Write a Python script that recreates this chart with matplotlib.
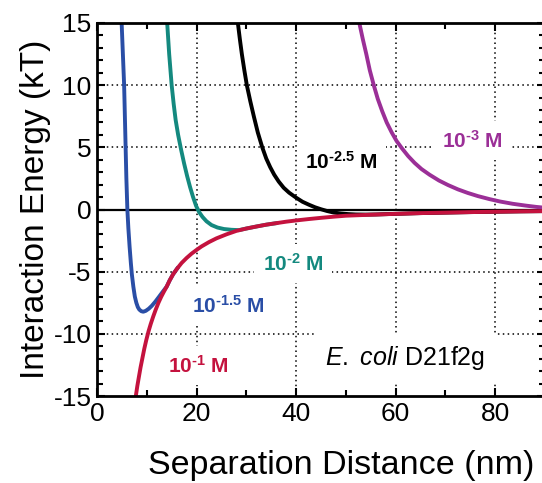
import matplotlib
matplotlib.use("Agg")
import matplotlib.pyplot as plt
from matplotlib.ticker import MultipleLocator

plt.rcParams['font.family'] = ['Liberation Sans', 'DejaVu Sans']
plt.rcParams['mathtext.fontset'] = 'custom'
plt.rcParams['mathtext.rm'] = 'Liberation Sans'
plt.rcParams['mathtext.bf'] = 'Liberation Sans:bold'
plt.rcParams['mathtext.it'] = 'Liberation Sans:italic'
plt.rcParams['axes.unicode_minus'] = False

# ---- data (separation distance nm, energy kT) ----
red_x = [7.8, 8.1, 8.4, 8.75, 9.1, 9.5, 9.9, 10.35, 10.8, 11.3, 11.8, 12.35, 12.9, 13.45, 14.0,
         14.6, 15.3, 16.1, 17.0, 18.0, 19.0, 20.0, 21.0, 22.5, 24.0, 26.0, 28.0, 30.0, 32.0, 34.0,
         36.0, 38.0, 40.0, 42.5, 45.0, 47.5, 50.0, 55.0, 60.0, 65.0, 70.0, 75.0, 80.0, 85.0, 90.0]
red_y = [-15.0, -14.2, -13.5, -12.7, -12.0, -11.2, -10.5, -9.8, -9.2, -8.6, -8.05, -7.5, -7.02, -6.6, -6.2,
         -5.7, -5.2, -4.75, -4.3, -3.9, -3.55, -3.25, -2.97, -2.62, -2.32, -2.0, -1.72, -1.53, -1.37, -1.22,
         -1.1, -0.98, -0.88, -0.77, -0.67, -0.58, -0.5, -0.42, -0.35, -0.29, -0.25, -0.21, -0.18, -0.15, -0.13]

blue_x = [4.95, 5.2, 5.45, 5.6, 5.75, 5.9, 6.1, 6.3, 6.55, 6.8, 7.0, 7.3, 7.6, 7.9, 8.2, 8.5, 8.9,
          9.3, 9.8, 10.4, 11.0, 11.7, 12.4, 13.2, 14.0, 14.6, 15.3, 16.1]
blue_y = [15.0, 12.5, 10.0, 7.5, 5.0, 2.5, 0.0, -1.5, -3.0, -4.3, -5.2, -6.2, -7.0, -7.5, -7.85, -8.05, -8.18,
          -8.22, -8.15, -7.98, -7.75, -7.42, -7.05, -6.62, -6.2, -5.7, -5.2, -4.75]

teal_x = [14.1, 14.5, 15.0, 15.4, 15.8, 16.3, 16.9, 17.5, 18.1, 18.7, 19.3, 19.9, 20.5, 21.2, 22.0,
          23.0, 24.2, 25.5, 27.0, 28.5, 30.0, 32.0, 34.0, 36.0]
teal_y = [15.0, 12.5, 10.0, 8.5, 7.2, 6.0, 4.8, 3.7, 2.7, 1.8, 1.0, 0.3, -0.2, -0.6, -0.95,
          -1.25, -1.45, -1.57, -1.63, -1.66, -1.53, -1.37, -1.22, -1.1]

black_x = [28.3, 28.7, 29.1, 29.6, 30.1, 30.8, 31.5, 32.3, 33.2, 34.0, 34.8, 35.6, 36.5, 37.5, 38.6,
           40.0, 41.3, 42.6, 43.8, 45.0, 46.2, 47.5, 49.0, 50.5, 52.0, 54.0, 56.0, 60.0, 65.0, 70.0,
           75.0, 80.0, 85.0, 90.0]
black_y = [15.0, 13.7, 12.5, 11.2, 10.0, 8.7, 7.5, 6.2, 5.0, 4.1, 3.4, 2.8, 2.25, 1.75, 1.35,
           0.95, 0.62, 0.38, 0.18, 0.02, -0.12, -0.24, -0.32, -0.37, -0.4, -0.41, -0.4, -0.35, -0.29, -0.25,
           -0.21, -0.18, -0.15, -0.13]

purple_x = [52.7, 53.4, 54.1, 54.8, 55.6, 56.4, 57.3, 58.2, 59.2, 60.2, 61.3, 62.5, 63.8, 65.2, 66.8,
            68.7, 70.5, 72.5, 74.5, 76.5, 78.8, 81.0, 83.5, 86.0, 88.2, 90.0]
purple_y = [15.0, 13.7, 12.5, 11.2, 10.0, 8.9, 7.9, 7.0, 6.2, 5.5, 4.9, 4.3, 3.75, 3.25, 2.8,
            2.33, 1.97, 1.62, 1.33, 1.08, 0.84, 0.64, 0.46, 0.32, 0.21, 0.14]

H = '\u2010'
labels = [r'$\mathbf{10^{' + H + r'1}}$ M', r'$\mathbf{10^{' + H + r'1.5}}$ M', r'$\mathbf{10^{' + H + r'2}}$ M',
          r'$\mathbf{10^{' + H + r'2.5}}$ M', r'$\mathbf{10^{' + H + r'3}}$ M']
colors = ['#c4123e', '#2a4ea6', '#14897f', '#000000', '#9b2f97']
x_ticks = [0, 20, 40, 60, 80]
y_ticks = [-15, -10, -5, 0, 5, 10, 15]

fig = plt.figure(figsize=(5.42, 4.83), dpi=100)
ax = fig.add_axes([97/542, 1-396/483, (545-97)/542, (396-23)/483])

ax.set_xlim(0, 90)
ax.set_ylim(-15, 15)

# dotted grid
for gx in x_ticks[1:]:
    ax.axvline(gx, color='black', lw=1.1, ls=(0, (1, 2.2)), zorder=0.5)
for gy in [-10, -5, 5, 10]:
    ax.axhline(gy, color='black', lw=1.1, ls=(0, (1, 2.2)), zorder=0.5)
ax.axhline(0, color='black', lw=1.6, zorder=1.5)

lw = 2.8
ax.plot(blue_x, blue_y, color=colors[1], lw=lw, zorder=2, solid_joinstyle='round')
ax.plot(teal_x, teal_y, color=colors[2], lw=lw, zorder=2.1, solid_joinstyle='round')
ax.plot(black_x, black_y, color=colors[3], lw=lw, zorder=2.2, solid_joinstyle='round')
ax.plot(purple_x, purple_y, color=colors[4], lw=lw, zorder=2.3, solid_joinstyle='round')
ax.plot(red_x, red_y, color=colors[0], lw=lw, zorder=2.4, solid_joinstyle='round')

box = dict(facecolor='white', edgecolor='none', pad=6)
tkw = dict(fontsize=15, fontweight='bold', va='baseline', ha='left', zorder=1, bbox=box)
ax.text(14.3, -13.1, labels[0], color=colors[0], **tkw)
ax.text(19.1, -8.3, labels[1], color=colors[1], **tkw)
ax.text(33.3, -4.9, labels[2], color=colors[2], **tkw)
ax.text(41.8, 3.3, labels[3], color=colors[3], **tkw)
ax.text(69.3, 5.0, labels[4], color=colors[4], **tkw)
ax.text(45.8, -12.5, r'$\it{E.\ coli}$ D21f2g', fontsize=18, color='black', va='baseline', ha='left',
        zorder=1, bbox=dict(facecolor='white', edgecolor='none', pad=8))

ax.set_xticks(x_ticks)
ax.set_yticks(y_ticks)
ax.xaxis.set_minor_locator(MultipleLocator(10))
ax.yaxis.set_minor_locator(MultipleLocator(1))
ax.tick_params(which='both', direction='in', top=True, right=True, width=1.5, labelsize=19, colors='black')
ax.tick_params(which='major', length=6, pad=4)
ax.tick_params(which='minor', length=4)
for s in ax.spines.values():
    s.set_linewidth(2.0)
    s.set_zorder(3)

ax.set_xlabel('Separation Distance (nm)', fontsize=24.5)
ax.xaxis.set_label_coords(0.545, -0.145)
ax.set_ylabel('Interaction Energy (kT)', fontsize=24, labelpad=2)

fig.savefig('out.png', dpi=100)
